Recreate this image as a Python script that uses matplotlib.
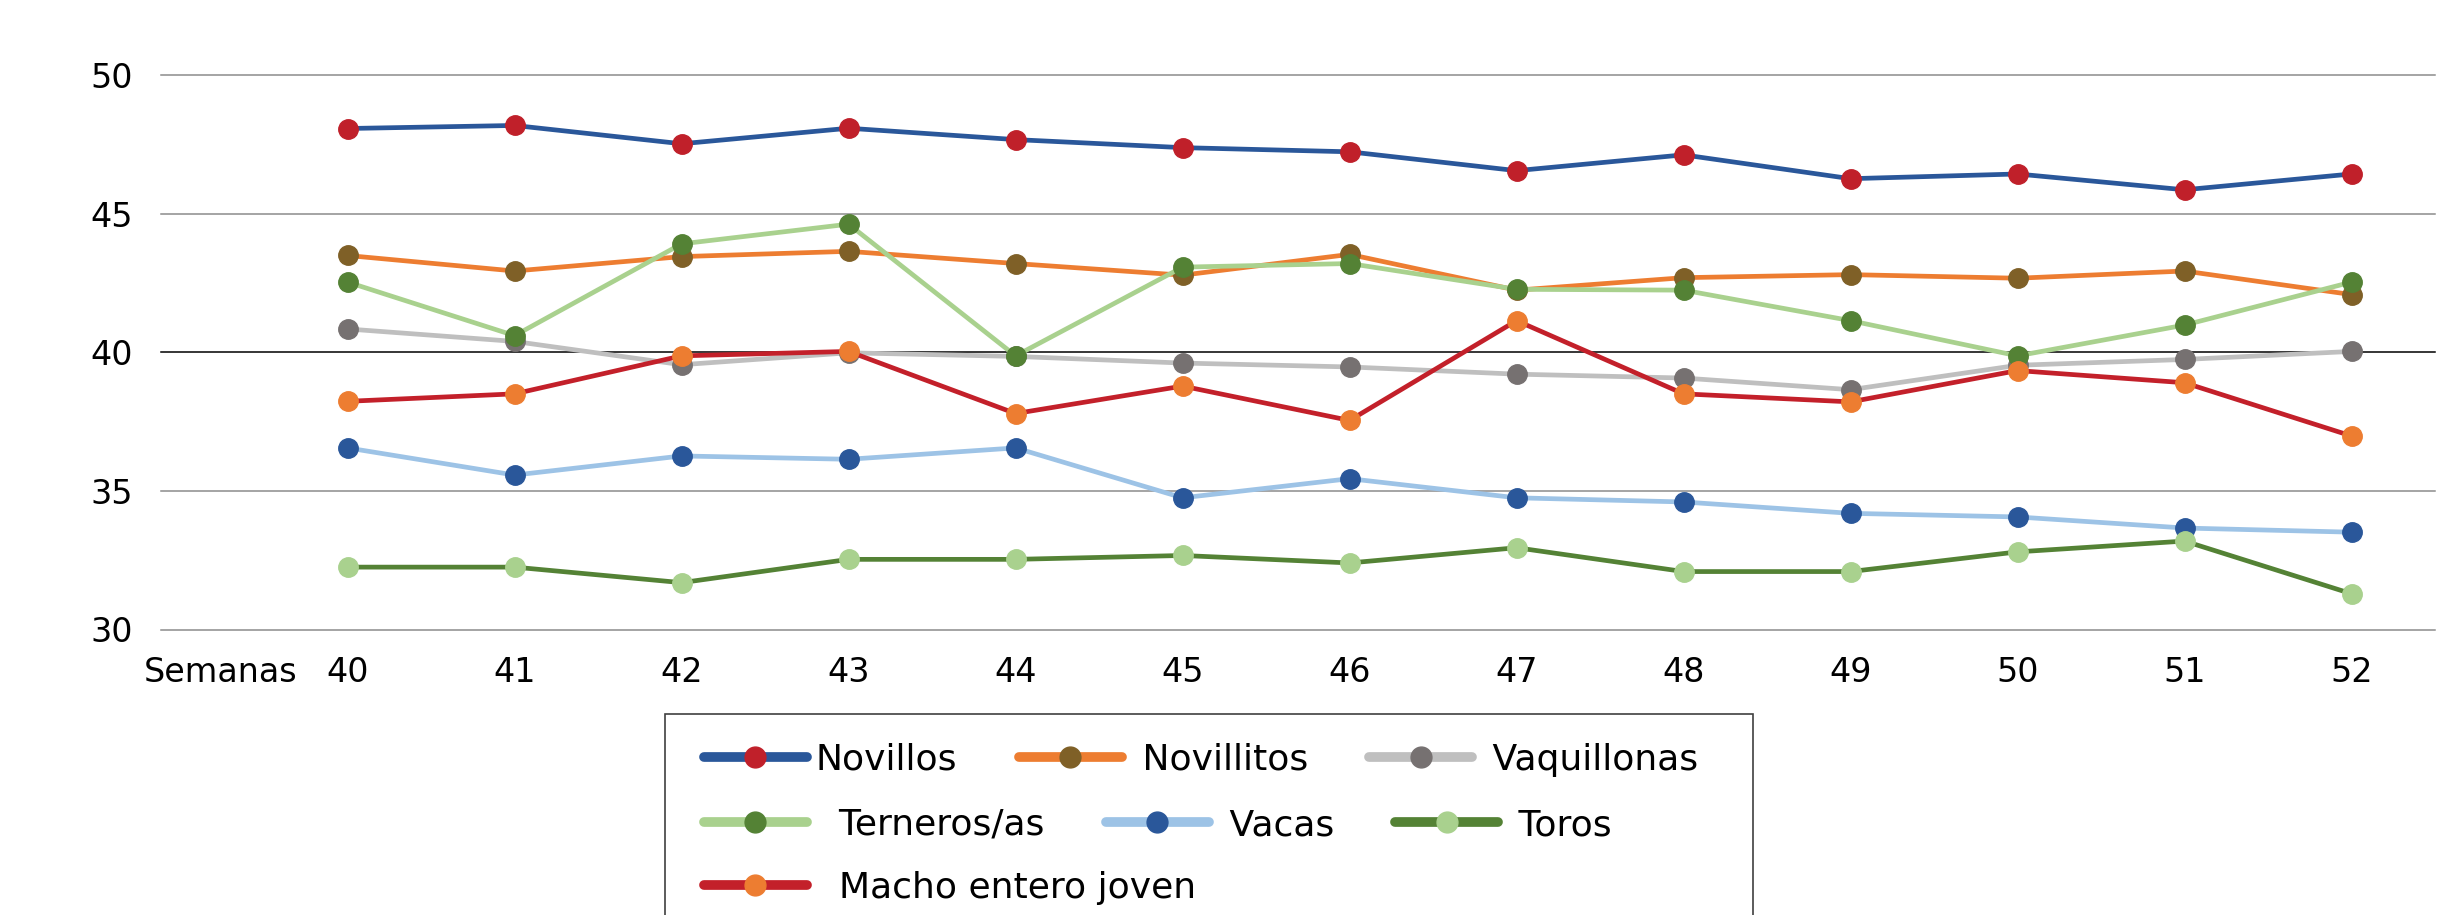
import numpy as np
import matplotlib.pyplot as plt
from matplotlib.lines import Line2D
from matplotlib.patches import Rectangle

plt.rcParams['font.family'] = ['DejaVu Sans']

semanas = [40, 41, 42, 43, 44, 45, 46, 47, 48, 49, 50, 51, 52]
novillos = [48.07, 48.18, 47.52, 48.08, 47.67, 47.38, 47.23, 46.55, 47.12, 46.26, 46.43, 45.86, 46.43]
novillitos = [43.49, 42.93, 43.45, 43.64, 43.20, 42.78, 43.53, 42.24, 42.69, 42.80, 42.67, 42.93, 42.08]
vaquillonas = [40.84, 40.39, 39.55, 39.98, 39.85, 39.61, 39.47, 39.21, 39.07, 38.65, 39.53, 39.74, 40.03]
terneros = [42.53, 40.60, 43.91, 44.62, 39.87, 43.07, 43.20, 42.27, 42.24, 41.14, 39.87, 40.98, 42.53]
vacas = [36.55, 35.57, 36.26, 36.14, 36.55, 34.75, 35.44, 34.75, 34.60, 34.19, 34.06, 33.66, 33.51]
toros = [32.25, 32.25, 31.69, 32.53, 32.53, 32.67, 32.40, 32.95, 32.09, 32.09, 32.80, 33.19, 31.29]
macho = [38.23, 38.50, 39.87, 40.03, 37.79, 38.78, 37.54, 41.14, 38.50, 38.21, 39.34, 38.90, 36.98]

# (label, values, line colour, marker colour)
series = [
    ('Novillos', novillos, '#2a579a', '#c0202a'),
    (' Novillitos', novillitos, '#ed7d31', '#7f6027'),
    (' Vaquillonas', vaquillonas, '#bfbfbf', '#767171'),
    ('  Terneros/as', terneros, '#a9d18e', '#548235'),
    (' Vacas', vacas, '#9dc3e6', '#2a579a'),
    (' Toros', toros, '#548235', '#a9d18e'),
    ('  Macho entero joven', macho, '#c3202a', '#ed7d31'),
]

fig = plt.figure(figsize=(24.6, 9.15), dpi=100)
ax = fig.add_axes([160.6/2460, 1-629.5/915, (2435-160.6)/2460, (629.5-75)/915])

for yv in [30, 35, 40, 45, 50]:
    ax.axhline(yv, color='black' if yv == 40 else '#8c8c8c', lw=1.1, zorder=0, clip_on=False)

for lab, vals, lc, mc in series:
    ax.plot(semanas, vals, color=lc, lw=3.4, marker='o', ms=14,
            markerfacecolor=mc, markeredgecolor=mc)

ax.set_xlim(38.88, 52.5)
ax.set_ylim(30, 50)
ax.set_xticks(semanas)
ax.set_yticks([30, 35, 40, 45, 50])
ax.tick_params(axis='both', length=0, labelsize=24)
ax.tick_params(axis='x', pad=19)
ax.tick_params(axis='y', pad=20)
for s in ax.spines.values():
    s.set_visible(False)

ax.annotate('Semanas', xy=(39.70, 0), xycoords=('data', 'axes fraction'),
            xytext=(0, -19), textcoords='offset points', ha='right', va='top', fontsize=24)

# legend: three rows, like the Excel flow layout
def handle(lc, mc):
    return Line2D([], [], color=lc, lw=7, marker='o', ms=15,
                  markerfacecolor=mc, markeredgecolor=mc, solid_capstyle='round')

rows = [series[0:3], series[3:6], series[6:7]]
row_y = [760, 825, 888]
for r, yy in zip(rows, row_y):
    fig.legend([handle(lc, mc) for _, _, lc, mc in r], [lab for lab, _, _, _ in r],
               loc='center left', bbox_to_anchor=(704/2460, 1-yy/915), ncol=3,
               frameon=False, fontsize=26, handlelength=2.85, handletextpad=0.25,
               columnspacing=1.7, borderpad=0, borderaxespad=0)

fig.add_artist(Rectangle((665/2460, -0.1), (1753-665)/2460, (1-714/915)+0.1,
                         transform=fig.transFigure, fill=False, edgecolor='#404040', lw=1.2))

plt.savefig('out.png', dpi=100)
